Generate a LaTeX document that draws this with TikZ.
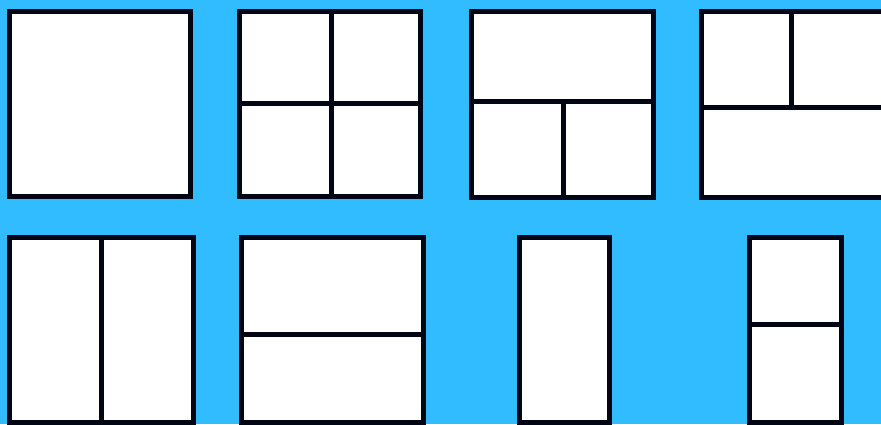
\documentclass[tikz,border=0pt]{standalone}
\definecolor{bgblue}{RGB}{48,188,254}
\definecolor{frame}{RGB}{2,6,20}
\tikzset{
  panel/.style={draw=frame, fill=white, line width=5pt},
  divider/.style={draw=frame, line width=5pt}
}
\begin{document}
\begin{tikzpicture}[x=1pt,y=-1pt]
\useasboundingbox (0,0) rectangle (881,424);
\clip (0,0) rectangle (881,424);
\fill[bgblue] (0,0) rectangle (881,424);
% row 1
\draw[panel] (9.5,11.5) rectangle (190.5,196.5);
\draw[panel] (239.5,11.5) rectangle (420.5,196.5);
\draw[divider] (331,11.5) -- (331,196.5);
\draw[divider] (239.5,103) -- (420.5,103);
\draw[panel] (471.5,11.5) rectangle (653.5,197.5);
\draw[divider] (471.5,101) -- (653.5,101);
\draw[divider] (563.5,101) -- (563.5,197.5);
\draw[panel] (701.5,11.5) rectangle (886,197.5);
\draw[divider] (701.5,107.5) -- (886,107.5);
\draw[divider] (791.5,11.5) -- (791.5,107.5);
% row 2
\draw[panel] (9.5,237.5) rectangle (193.5,422.5);
\draw[divider] (101,237.5) -- (101,422.5);
\draw[panel] (241.5,237.5) rectangle (423.5,422.5);
\draw[divider] (241.5,334) -- (423.5,334);
\draw[panel] (519.5,237.5) rectangle (609.5,422.5);
\draw[panel] (749.5,237.5) rectangle (841.5,422.5);
\draw[divider] (749.5,324) -- (841.5,324);
\end{tikzpicture}
\end{document}
